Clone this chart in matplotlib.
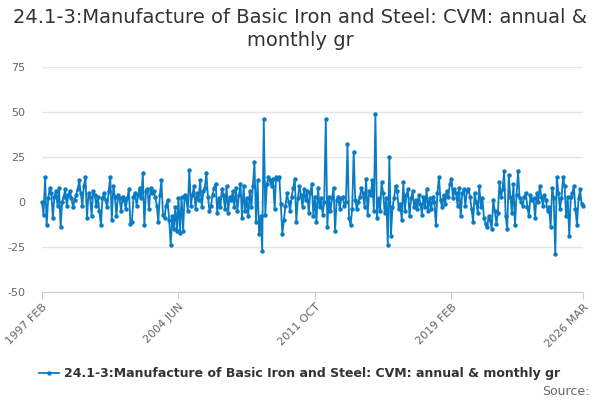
import matplotlib
matplotlib.use("Agg")
import matplotlib.pyplot as plt

title = "24.1-3:Manufacture of Basic Iron and Steel: CVM: annual &\nmonthly gr"
series_name = "24.1-3:Manufacture of Basic Iron and Steel: CVM: annual & monthly gr"
tick_labels = ["1997 FEB", "2004 JUN", "2011 OCT", "2019 FEB", "2026 MAR"]
tick_months = [0, 88, 176, 264, 349]
y_ticks = [-50, -25, 0, 25, 50, 75]

# monthly values, Feb 1997 .. Mar 2026
values = [
    0, -7, 14, -13, 2, 8, 5, -9, 3, 6,
    -2, 8, -14, 0, 3, 7, -2, 4, 6, 2,
    -3, 1, 4, 7, 12, 5, -2, 9, 14, -9,
    5, 3, -8, 6, 4, -2, 3, -5, -13, 2,
    5, 1, -3, 6, 14, -10, 9, 3, -8, 4,
    2, -5, 3, 1, -4, 2, 7, -12, -11, 3,
    5, -2, 4, 8, 2, 16, -13, 6, 7, -4,
    8, 5, 6, 3, -2, -11, 4, 12, -7, -9,
    -2, 1, -10, -24, -8, -15, -3, -16, 2, -17,
    3, -16, 4, 2, -5, 18, -2, 4, 9, -4,
    5, 1, 12, -3, 6, 8, 16, 3, -5, -2,
    4, 8, 10, -6, 2, -3, 7, 4, -4, 9,
    -6, 3, 1, 6, -3, 8, -5, 4, 10, -9,
    9, -5, 2, -8, 6, -3, 9, 22, -11, 12,
    -18, -8, -27, 46, -7, 10, 14, 12, 9, 13,
    -4, 14, 13, 14, -1, -18, -10, -2, 5, 0,
    -5, 3, 8, 13, -11, 2, 9, 4, -3, 7,
    1, 6, -6, 5, 10, -8, 3, -11, 8, -3,
    2, -7, 0, 46, -14, 3, -5, 2, 8, -16,
    1, 3, -4, 2, 3, -2, 0, 32, -9, -13,
    -4, 28, 1, -4, 0, 3, 8, 5, -3, 13,
    -7, 6, 4, 12, -5, 49, -9, 2, -5, 11,
    5, -6, 2, -24, 25, -19, -3, 2, 9, 6,
    -4, -1, -10, 11, -5, 4, 7, -8, 2, 6,
    -3, 1, -4, 4, -1, -7, 3, -3, 7, -5,
    2, -4, 3, 0, -13, 5, 14, 1, -3, 4,
    -1, 6, 3, 10, 13, 2, 7, 5, -2, 8,
    -8, 5, 7, -2, 6, 7, 3, -4, -11, 5,
    0, -6, 9, -3, 2, -9, -12, -14, -8, -10,
    -15, 1, -5, -12, -6, 11, 3, 7, 17, -8,
    -15, 15, 3, -6, 10, -13, 4, 17, 2, 0,
    -2, 3, 5, -3, -8, 4, 1, 2, -9, 5,
    0, 9, 3, -2, 4, 1, -5, -3, -14, 8,
    2, -29, 14, 5, -4, 2, 14, 9, -8, 3,
    -19, 3, 5, 9, -4, -13, 2, 7, -1, -2,
]

months = list(range(len(values)))
color = "#0a7cc4"

fig = plt.figure(figsize=(6, 4), dpi=100)
ax = fig.add_axes([0.07, 0.27, 0.902, 0.5625])
ax.plot(months, values, color=color, lw=1.3, marker="o", ms=2.2,
        label=series_name, zorder=3, clip_on=False)

ax.set_xlim(0, len(values) - 1)
ax.set_ylim(-50, 75)
ax.set_yticks(y_ticks)
ax.set_yticklabels([str(v) for v in y_ticks], color="#666666", fontsize=8)
ax.set_xticks(tick_months)
ax.set_xticklabels(tick_labels, rotation=45, ha="right", rotation_mode="anchor",
                   color="#666666", fontsize=8)
ax.grid(axis="y", color="#e6e6e6", lw=1)
ax.set_axisbelow(True)
for s in ["top", "right", "left"]:
    ax.spines[s].set_visible(False)
ax.spines["bottom"].set_color("#cccccc")
ax.tick_params(axis="y", length=0, pad=12)
ax.tick_params(axis="x", length=5, color="#cccccc", pad=2)

fig.text(0.5, 0.98, title, ha="center", va="top", fontsize=14,
         color="#333333", linespacing=1.25)

leg = fig.legend(loc="center", bbox_to_anchor=(0.5, 0.065), frameon=False,
                 prop={"weight": "bold", "size": 9}, handlelength=1.6,
                 handletextpad=0.4)
for t in leg.get_texts():
    t.set_color("#333333")

fig.text(0.982, 0.022, "Source:", ha="right", va="center", fontsize=9,
         color="#666666")

fig.savefig("out.png", dpi=100)
